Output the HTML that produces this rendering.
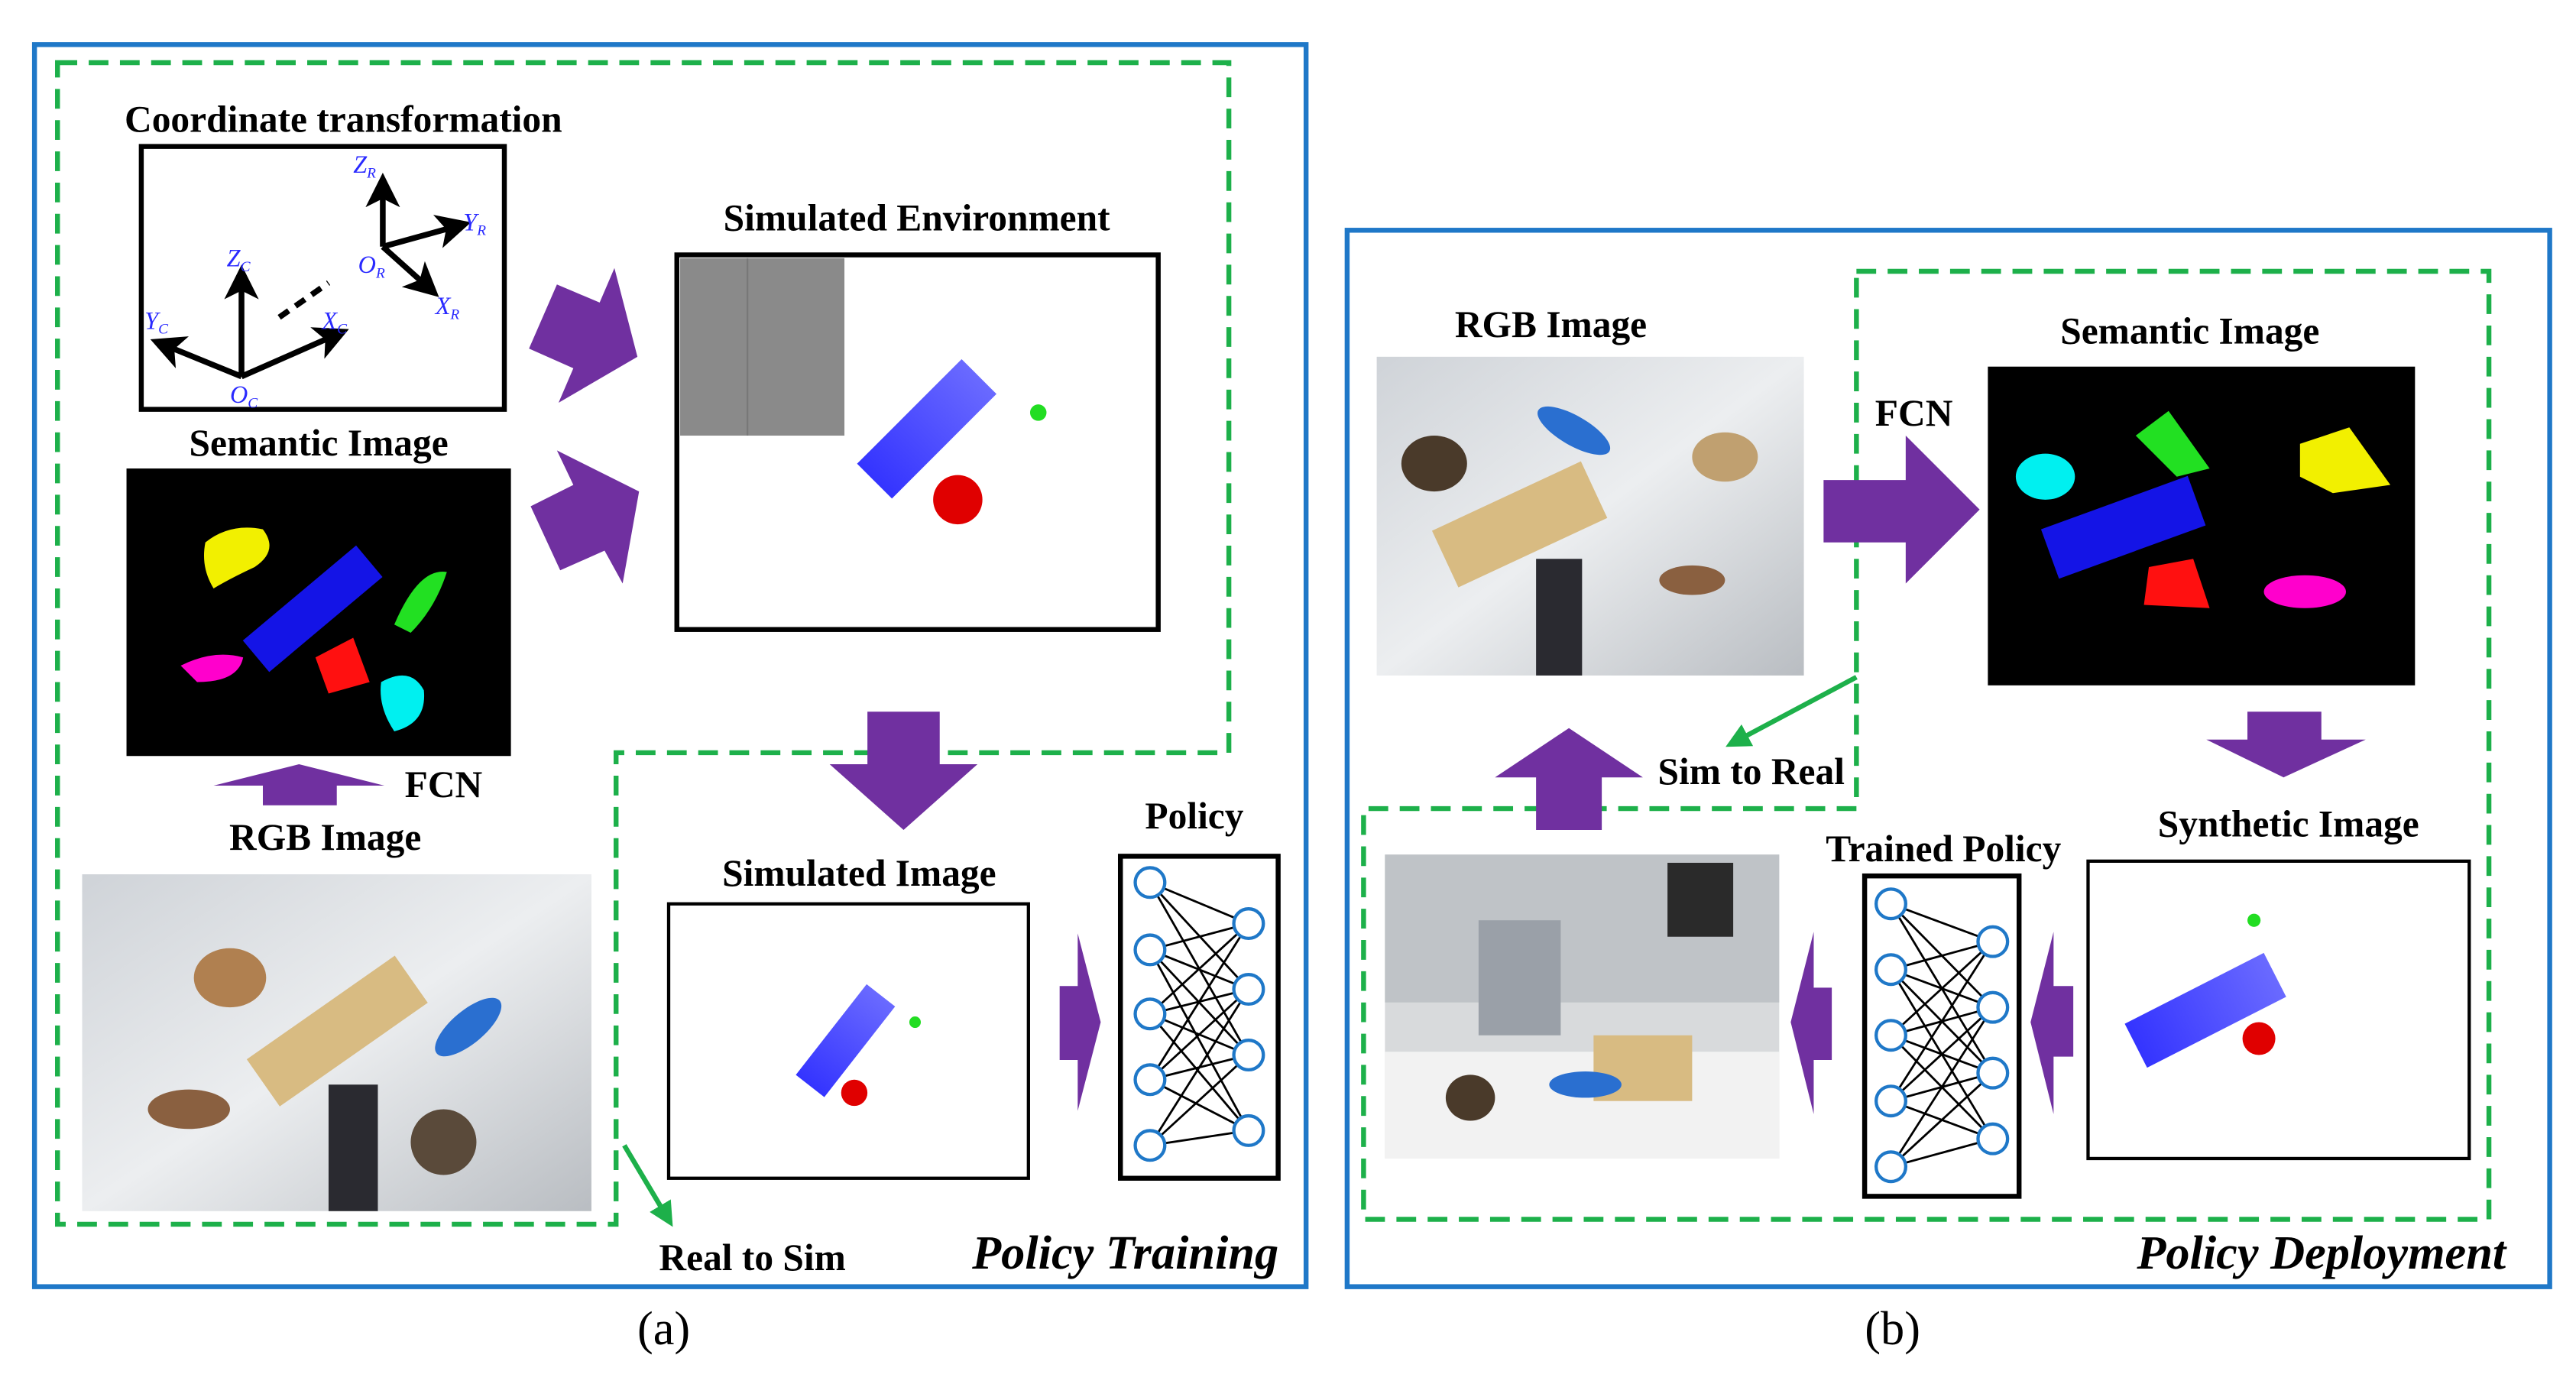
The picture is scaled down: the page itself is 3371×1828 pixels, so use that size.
<!DOCTYPE html>
<html><head><style>html,body{margin:0;padding:0;background:#fff}svg{display:block}</style></head>
<body>
<svg width="3371" height="1828" viewBox="0 0 1568 850" xmlns="http://www.w3.org/2000/svg" font-family="Liberation Serif, serif">
<defs>
<marker id="ah" markerWidth="6" markerHeight="6" refX="4" refY="3" orient="auto" markerUnits="strokeWidth"><path d="M0,0 L6,3 L0,6 L1.5,3 Z" fill="#000"/></marker>
<marker id="gh" markerWidth="5" markerHeight="5" refX="4" refY="2.5" orient="auto" markerUnits="strokeWidth"><path d="M0,0 L5,2.5 L0,5 Z" fill="#1db04a"/></marker>
<linearGradient id="ph" x1="0" y1="0" x2="1" y2="1"><stop offset="0" stop-color="#cfd3d8"/><stop offset="0.5" stop-color="#eceef0"/><stop offset="1" stop-color="#b9bdc2"/></linearGradient>
<linearGradient id="bl" x1="0" y1="0" x2="1" y2="0"><stop offset="0" stop-color="#3434ff"/><stop offset="1" stop-color="#6a6aff"/></linearGradient>
</defs>

<!-- (a) -->
<rect x="21" y="27" width="774" height="756" fill="none" stroke="#1f78c8" stroke-width="3"/>
<path d="M35,38 H748 V458 H375 V745 H35 Z" fill="none" stroke="#1db04a" stroke-width="3" stroke-dasharray="12,7"/>

<text x="209" y="80" font-size="23" font-weight="bold" text-anchor="middle">Coordinate transformation</text>
<rect x="86" y="89" width="221" height="160" fill="#fff" stroke="#000" stroke-width="3"/>
<g stroke="#000" stroke-width="3.5" fill="none">
<line x1="147" y1="229" x2="147" y2="168" marker-end="url(#ah)"/>
<line x1="147" y1="229" x2="98" y2="209" marker-end="url(#ah)"/>
<line x1="147" y1="229" x2="206" y2="203" marker-end="url(#ah)"/>
<line x1="233" y1="150" x2="233" y2="112" marker-end="url(#ah)"/>
<line x1="233" y1="150" x2="280" y2="137" marker-end="url(#ah)"/>
<line x1="233" y1="150" x2="262" y2="176" marker-end="url(#ah)"/>
<line x1="170" y1="193" x2="200" y2="172" stroke-dasharray="7,5"/>
</g>
<g fill="#2a2aff" font-style="italic" font-size="15">
<text x="138" y="162">Z<tspan font-size="9" dy="3">C</tspan></text>
<text x="88" y="200">Y<tspan font-size="9" dy="3">C</tspan></text>
<text x="196" y="200">X<tspan font-size="9" dy="3">C</tspan></text>
<text x="140" y="245">O<tspan font-size="9" dy="3">C</tspan></text>
<text x="215" y="105">Z<tspan font-size="9" dy="3">R</tspan></text>
<text x="282" y="140">Y<tspan font-size="9" dy="3">R</tspan></text>
<text x="218" y="166">O<tspan font-size="9" dy="3">R</tspan></text>
<text x="265" y="191">X<tspan font-size="9" dy="3">R</tspan></text>
</g>

<text x="194" y="277" font-size="23" font-weight="bold" text-anchor="middle">Semantic Image</text>
<rect x="77" y="285" width="234" height="175" fill="#000"/>
<rect x="145" y="358" width="90" height="25" fill="#1414e6" transform="rotate(-40 190 370)"/>
<path d="M125,330 Q140,318 160,322 Q170,335 155,345 Q140,352 130,358 Q122,345 125,330Z" fill="#f2f000"/>
<path d="M240,380 Q255,345 272,348 Q265,370 250,385Z" fill="#22e022"/>
<path d="M110,405 Q130,395 148,400 Q145,415 120,415Z" fill="#ff00cc"/>
<path d="M192,400 L215,388 L225,415 L200,422Z" fill="#ff1010"/>
<path d="M232,415 Q250,405 258,420 Q260,440 240,445 Q230,430 232,415Z" fill="#00f0f0"/>

<polygon points="160,490 160,478 130,478 182,465 234,478 205,478 205,490" fill="#7030a0"/>
<text x="270" y="485" font-size="23" font-weight="bold" text-anchor="middle">FCN</text>
<text x="198" y="517" font-size="23" font-weight="bold" text-anchor="middle">RGB Image</text>
<rect x="50" y="532" width="310" height="205" fill="url(#ph)"/>
<rect x="150" y="610" width="110" height="35" fill="#d8bb82" transform="rotate(-35 205 627)"/>
<ellipse cx="140" cy="595" rx="22" ry="18" fill="#b08050"/>
<ellipse cx="285" cy="625" rx="25" ry="10" fill="#2a6fd0" transform="rotate(-40 285 625)"/>
<ellipse cx="115" cy="675" rx="25" ry="12" fill="#8a6040"/>
<ellipse cx="270" cy="695" rx="20" ry="20" fill="#5a4a3a"/>
<rect x="200" y="660" width="30" height="77" fill="#2a2a30"/>

<polygon points="339,173 365,184 374,163 388,217 340,245 349,224 322,212" fill="#7030a0"/>
<polygon points="339,274 349,295 323,308 341,347 368,335 379,355 389,299" fill="#7030a0"/>

<text x="558" y="140" font-size="23" font-weight="bold" text-anchor="middle">Simulated Environment</text>
<rect x="412" y="155" width="293" height="228" fill="#fff" stroke="#000" stroke-width="3"/>
<rect x="414" y="157" width="100" height="108" fill="#8a8a8a"/>
<line x1="455" y1="157" x2="455" y2="265" stroke="#777"/>
<rect x="520" y="248" width="90" height="30" fill="url(#bl)" transform="rotate(-45 562 263)"/>
<circle cx="632" cy="251" r="5" fill="#22dd22"/>
<circle cx="583" cy="304" r="15" fill="#e00000"/>

<polygon points="528,433 572,433 572,465 595,465 550,505 505,465 528,465" fill="#7030a0"/>

<text x="523" y="539" font-size="23" font-weight="bold" text-anchor="middle">Simulated Image</text>
<rect x="407" y="550" width="219" height="167" fill="#fff" stroke="#000" stroke-width="2"/>
<rect x="480" y="625" width="70" height="22" fill="url(#bl)" transform="rotate(-52 512 635)"/>
<circle cx="557" cy="622" r="3.5" fill="#22dd22"/>
<circle cx="520" cy="665" r="8" fill="#e00000"/>
<polygon points="645,600 656,600 656,568 670,622 656,676 656,645 645,645" fill="#7030a0"/>

<text x="727" y="504" font-size="23" font-weight="bold" text-anchor="middle">Policy</text>
<rect x="682" y="521" width="96" height="196" fill="#fff" stroke="#000" stroke-width="3"/>
<g stroke="#000" stroke-width="1.3">
<path d="M700,537 L760,562 M700,537 L760,602 M700,537 L760,642 M700,578 L760,562 M700,578 L760,602 M700,578 L760,642 M700,578 L760,688 M700,617 L760,562 M700,617 L760,602 M700,617 L760,642 M700,617 L760,688 M700,657 L760,562 M700,657 L760,602 M700,657 L760,642 M700,657 L760,688 M700,697 L760,602 M700,697 L760,642 M700,697 L760,688"/>
</g>
<g fill="#fff" stroke="#1f78c8" stroke-width="2">
<circle cx="700" cy="537" r="9"/><circle cx="700" cy="578" r="9"/><circle cx="700" cy="617" r="9"/><circle cx="700" cy="657" r="9"/><circle cx="700" cy="697" r="9"/>
<circle cx="760" cy="562" r="9"/><circle cx="760" cy="602" r="9"/><circle cx="760" cy="642" r="9"/><circle cx="760" cy="688" r="9"/>
</g>

<line x1="380" y1="697" x2="408" y2="744" stroke="#1db04a" stroke-width="3" marker-end="url(#gh)"/>
<text x="458" y="773" font-size="23" font-weight="bold" text-anchor="middle">Real to Sim</text>
<text x="685" y="772" font-size="29" font-weight="bold" font-style="italic" text-anchor="middle">Policy Training</text>
<text x="404" y="818" font-size="29" text-anchor="middle">(a)</text>

<!-- (b) -->
<rect x="820" y="140" width="732" height="643" fill="none" stroke="#1f78c8" stroke-width="3"/>
<path d="M1130,165 H1515 V742 H830 V492 H1130 Z" fill="none" stroke="#1db04a" stroke-width="3" stroke-dasharray="12,7"/>

<text x="944" y="205" font-size="23" font-weight="bold" text-anchor="middle">RGB Image</text>
<rect x="838" y="217" width="260" height="194" fill="url(#ph)"/>
<rect x="875" y="300" width="100" height="38" fill="#d8bb82" transform="rotate(-25 925 319)"/>
<ellipse cx="873" cy="282" rx="20" ry="17" fill="#4a3a2a"/>
<ellipse cx="958" cy="262" rx="25" ry="9" fill="#2a6fd0" transform="rotate(30 958 262)"/>
<ellipse cx="1050" cy="278" rx="20" ry="15" fill="#c0a070"/>
<ellipse cx="1030" cy="353" rx="20" ry="9" fill="#8a6040"/>
<rect x="935" y="340" width="28" height="71" fill="#2a2a30"/>

<text x="1165" y="259" font-size="23" font-weight="bold" text-anchor="middle">FCN</text>
<polygon points="1110,292 1160,292 1160,265 1205,310 1160,355 1160,330 1110,330" fill="#7030a0"/>

<text x="1333" y="209" font-size="23" font-weight="bold" text-anchor="middle">Semantic Image</text>
<rect x="1210" y="223" width="260" height="194" fill="#000"/>
<rect x="1245" y="305" width="95" height="32" fill="#1414e6" transform="rotate(-20 1292 321)"/>
<ellipse cx="1245" cy="290" rx="18" ry="14" fill="#00f0f0"/>
<path d="M1300,265 L1320,250 L1345,285 L1325,290Z" fill="#22e022"/>
<path d="M1400,270 L1430,260 L1455,295 L1420,300 L1400,290Z" fill="#f2f000"/>
<path d="M1308,345 L1335,340 L1345,370 L1305,368Z" fill="#ff1010"/>
<ellipse cx="1403" cy="360" rx="25" ry="10" fill="#ff00cc"/>

<polygon points="1368,433 1413,433 1413,450 1440,450 1390,473 1343,450 1368,450" fill="#7030a0"/>

<text x="1393" y="509" font-size="23" font-weight="bold" text-anchor="middle">Synthetic Image</text>
<rect x="1271" y="524" width="232" height="181" fill="#fff" stroke="#000" stroke-width="2"/>
<rect x="1295" y="600" width="95" height="30" fill="url(#bl)" transform="rotate(-27 1342 615)"/>
<circle cx="1372" cy="560" r="4" fill="#22dd22"/>
<circle cx="1375" cy="632" r="10" fill="#e00000"/>

<polygon points="1262,600 1250,600 1250,567 1236,622 1250,678 1250,643 1262,643" fill="#7030a0"/>
<polygon points="1115,601 1104,601 1104,567 1090,622 1104,678 1104,645 1115,645" fill="#7030a0"/>

<text x="1183" y="524" font-size="23" font-weight="bold" text-anchor="middle">Trained Policy</text>
<rect x="1135" y="533" width="94" height="195" fill="#fff" stroke="#000" stroke-width="3"/>
<g stroke="#000" stroke-width="1.3">
<path d="M1151,550 L1213,573 M1151,550 L1213,613 M1151,550 L1213,653 M1151,590 L1213,573 M1151,590 L1213,613 M1151,590 L1213,653 M1151,590 L1213,693 M1151,630 L1213,573 M1151,630 L1213,613 M1151,630 L1213,653 M1151,630 L1213,693 M1151,670 L1213,573 M1151,670 L1213,613 M1151,670 L1213,653 M1151,670 L1213,693 M1151,710 L1213,613 M1151,710 L1213,653 M1151,710 L1213,693"/>
</g>
<g fill="#fff" stroke="#1f78c8" stroke-width="2">
<circle cx="1151" cy="550" r="9"/><circle cx="1151" cy="590" r="9"/><circle cx="1151" cy="630" r="9"/><circle cx="1151" cy="670" r="9"/><circle cx="1151" cy="710" r="9"/>
<circle cx="1213" cy="573" r="9"/><circle cx="1213" cy="613" r="9"/><circle cx="1213" cy="653" r="9"/><circle cx="1213" cy="693" r="9"/>
</g>

<rect x="843" y="520" width="240" height="185" fill="#d8dadc"/>
<rect x="843" y="520" width="240" height="90" fill="#bfc3c7"/>
<rect x="843" y="640" width="240" height="65" fill="#f2f2f2"/>
<rect x="970" y="630" width="60" height="40" fill="#d8bb82"/>
<rect x="900" y="560" width="50" height="70" fill="#9aa0a8"/>
<rect x="1015" y="525" width="40" height="45" fill="#2a2a2a"/>
<ellipse cx="895" cy="668" rx="15" ry="14" fill="#4a3a2a"/>
<ellipse cx="965" cy="660" rx="22" ry="8" fill="#2a6fd0"/>

<polygon points="935,505 975,505 975,473 1000,473 955,443 910,473 935,473" fill="#7030a0"/>
<line x1="1130" y1="412" x2="1053" y2="453" stroke="#1db04a" stroke-width="3" marker-end="url(#gh)"/>
<text x="1066" y="477" font-size="23" font-weight="bold" text-anchor="middle">Sim to Real</text>
<text x="1413" y="772" font-size="29" font-weight="bold" font-style="italic" text-anchor="middle">Policy Deployment</text>
<text x="1152" y="818" font-size="29" text-anchor="middle">(b)</text>
</svg>
</body></html>
